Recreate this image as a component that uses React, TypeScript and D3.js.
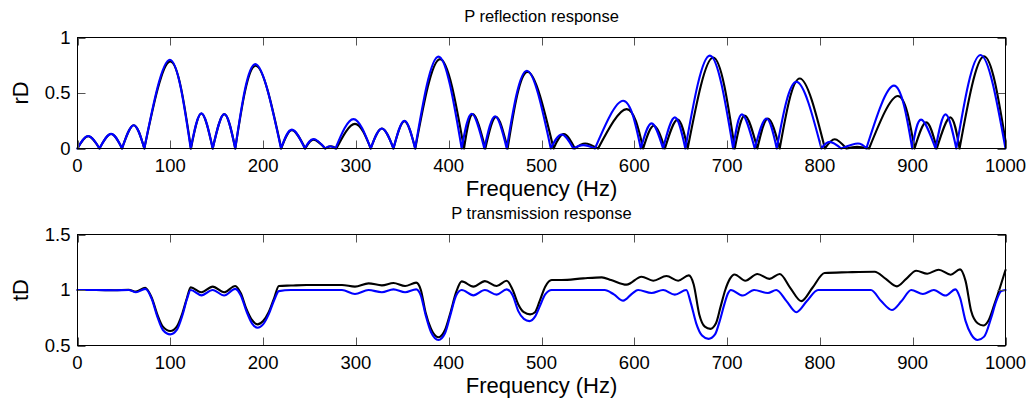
import React from "react";
import * as d3 from "d3";

// ---- data ----
const xTicks = [0, 100, 200, 300, 400, 500, 600, 700, 800, 900, 1000];
const reflTicks = [0, 0.5, 1];
const reflTickLabels = ["0", "0.5", "1"];
const transTicks = [0.5, 1, 1.5];
const transTickLabels = ["0.5", "1", "1.5"];

// P reflection response, black series (freq Hz, rD)
const reflBlack: [number, number][] = [
  [0, 0], [11.5, 0.11], [23.7, 0], [36.2, 0.13], [48, 0], [60.6, 0.21], [72, 0],
  [100, 0.785], [122.3, 0], [133.5, 0.315], [145.7, 0], [158.2, 0.31], [170, 0],
  [192, 0.745], [219.6, 0], [231, 0.165], [245.4, 0], [254.4, 0.08], [267, 0],
  [273, 0.02], [279, 0], [299, 0.222], [316, 0], [328, 0.18], [340.5, 0],
  [352.3, 0.245], [364, 0], [390.7, 0.805], [416.5, 0], [426, 0.31], [439.5, 0],
  [451, 0.285], [463.5, 0], [485, 0.69], [513, 0], [524, 0.13], [536, 0],
  [547, 0.045], [561, 0], [591.7, 0.355], [609.6, 0], [621, 0.205], [633, 0],
  [646.6, 0.26], [657.5, 0], [685, 0.82], [708.3, 0], [719, 0.296], [732.6, 0],
  [744, 0.27], [756.7, 0], [778.3, 0.63], [805.4, 0], [816, 0.084], [828.5, 0],
  [840, 0.015], [853, 0], [884, 0.473], [902, 0], [914.6, 0.235], [926, 0],
  [940.5, 0.28], [950.5, 0], [976.6, 0.83], [1000, 0.07],
];

// P reflection response, blue series
const reflBlue: [number, number][] = [
  [0, 0], [11.5, 0.112], [23.7, 0], [36.2, 0.132], [48, 0], [60.6, 0.21], [72, 0],
  [99.5, 0.8], [122, 0], [133.5, 0.316], [145.7, 0], [158.2, 0.31], [170, 0],
  [191.6, 0.76], [219.3, 0], [231, 0.17], [245, 0], [254.4, 0.085], [267, 0],
  [272, 0.02], [278, 0], [297.4, 0.265], [316, 0], [328, 0.18], [340.5, 0],
  [352.3, 0.25], [363.8, 0], [389, 0.828], [414, 0], [424.8, 0.313], [438.4, 0],
  [450, 0.29], [462.5, 0], [484.2, 0.7], [510, 0], [521.7, 0.126], [534.3, 0],
  [545, 0.03], [557.6, 0], [588, 0.43], [607, 0], [618.6, 0.226], [631, 0],
  [643.7, 0.28], [655, 0], [681.4, 0.837], [706.5, 0], [716, 0.307], [729.8, 0],
  [742.4, 0.27], [753.5, 0], [774.7, 0.6], [801.6, 0], [810.5, 0.06], [823, 0],
  [841, 0.045], [850, 0], [879.8, 0.566], [899.5, 0], [909, 0.26], [924.6, 0],
  [935.4, 0.307], [947, 0], [973, 0.843], [1000, 0],
];

// P transmission response, black series (freq Hz, tD)
const transBlack: [number, number][] = [
  [0, 1.0], [20, 1.0], [40, 0.998], [55, 1.002], [63, 0.985], [73, 1.02], [80, 0.93],
  [86, 0.78], [92, 0.67], [100, 0.63], [107, 0.67], [113, 0.79], [118, 0.93],
  [122, 1.024], [133.5, 0.98], [145.7, 1.03], [158, 0.98], [170, 1.036], [176, 0.97],
  [182, 0.83], [188, 0.73], [194, 0.69], [200, 0.72], [206, 0.8], [212, 0.93],
  [217, 1.036], [230, 1.04], [247, 1.045], [270, 1.045], [285, 1.045], [299, 1.03],
  [313.6, 1.06], [328, 1.042], [340.5, 1.063], [353, 1.036], [365, 1.066], [370, 1.0],
  [375, 0.8], [381, 0.65], [389, 0.575], [396, 0.64], [402, 0.8], [408, 0.98],
  [414, 1.078], [426.6, 1.03], [439, 1.08], [451.7, 1.036], [462.5, 1.084], [469, 1.0],
  [475, 0.87], [481, 0.8], [487.7, 0.78], [493, 0.8], [498, 0.9], [504, 1.03],
  [511, 1.09], [521.7, 1.09], [545, 1.105], [565, 1.114], [575, 1.09], [591.7, 1.048],
  [607.8, 1.12], [620.4, 1.084], [634.7, 1.126], [647.3, 1.084], [658.7, 1.132],
  [664, 1.05], [670, 0.78], [676, 0.67], [682, 0.65], [688, 0.7], [693, 0.85],
  [698, 1.0], [703, 1.1], [708, 1.14], [719.6, 1.084], [732.6, 1.144], [745.6, 1.1],
  [756.7, 1.144], [768, 1.02], [780, 0.9], [792, 1.02], [805, 1.153], [830, 1.16],
  [859, 1.165], [871, 1.1], [883, 1.033], [893, 1.1], [903.8, 1.174], [915.7, 1.147],
  [928, 1.183], [941, 1.138], [951, 1.186], [957, 1.08], [963, 0.81], [970, 0.7],
  [976, 0.68], [982, 0.73], [988, 0.87], [994, 1.02], [1000, 1.18],
];

// P transmission response, blue series
const transBlue: [number, number][] = [
  [0, 1.0], [20, 1.0], [40, 0.998], [55, 1.0], [63, 0.98], [73, 1.01], [80, 0.92],
  [86, 0.76], [92, 0.64], [100, 0.6], [107, 0.64], [113, 0.77], [118, 0.92],
  [122, 1.0], [133.5, 0.952], [145.7, 1.0], [158, 0.95], [170, 1.01], [176, 0.95],
  [182, 0.81], [188, 0.7], [194, 0.66], [200, 0.69], [206, 0.78], [212, 0.91],
  [217, 0.99], [230, 1.0], [285, 1.0], [299, 0.964], [313.6, 1.0], [328, 0.98],
  [340.5, 1.006], [353, 0.98], [365, 1.006], [370, 0.95], [375, 0.78], [381, 0.62],
  [389, 0.55], [396, 0.61], [402, 0.78], [408, 0.95], [414, 1.0], [426.6, 0.952],
  [439, 1.0], [451.7, 0.958], [462.5, 1.006], [469, 0.95], [475, 0.81], [481, 0.74],
  [487, 0.72], [493, 0.76], [498, 0.85], [504, 0.96], [511, 1.0], [568, 1.0],
  [578, 0.96], [588, 0.904], [598, 0.97], [604, 1.0], [618.7, 0.973], [631, 1.0],
  [643.7, 0.958], [656, 1.0], [661, 0.88], [666.7, 0.7], [673, 0.59], [680, 0.56],
  [687, 0.6], [692, 0.72], [697, 0.87], [701, 0.97], [704, 1.0], [717, 0.95],
  [729, 1.0], [744, 0.973], [753, 1.0], [764, 0.9], [774.6, 0.8], [786, 0.9],
  [798, 1.0], [855, 1.0], [866, 0.9], [877.6, 0.82], [888, 0.9], [898.4, 1.0],
  [911, 0.964], [922.8, 1.0], [935.4, 0.95], [946, 1.006], [951, 0.93], [957, 0.72],
  [963, 0.6], [970, 0.55], [977, 0.58], [984.6, 0.75], [990, 0.9], [995.4, 0.99],
  [1000, 1.0],
];

// ---- layout ----
const W = 1030;
const H = 404;
const LEFT = 77.5;
const RIGHT = 1005.5;
const FONT = "'Liberation Sans', Arial, Helvetica, sans-serif";
const TICK = 8;

function splitAtZeros(data: [number, number][]): [number, number][][] {
  const segs: [number, number][][] = [];
  let cur: [number, number][] = [data[0]];
  for (let i = 1; i < data.length; i++) {
    cur.push(data[i]);
    if (data[i][1] === 0 && i < data.length - 1) {
      segs.push(cur);
      cur = [data[i]];
    }
  }
  if (cur.length > 1) segs.push(cur);
  return segs;
}

type Series = { data: [number, number][]; color: string };

function Panel(props: {
  top: number;
  bottom: number;
  yDomain: [number, number];
  yTicks: number[];
  yTickLabels: string[];
  title: string;
  ylabel: string;
  series: Series[];
  lobes: boolean;
}) {
  const { top, bottom, yDomain, yTicks, yTickLabels, title, ylabel, series, lobes } = props;
  const x = d3.scaleLinear().domain([0, 1000]).range([LEFT, RIGHT]);
  const y = d3.scaleLinear().domain(yDomain).range([bottom, top]);
  const pathFor = (data: [number, number][]) => {
    if (lobes) {
      const line = d3
        .line<[number, number]>()
        .x((d) => x(d[0]))
        .y((d) => y(d[1]))
        .curve(d3.curveNatural);
      return splitAtZeros(data)
        .map((s) => line(s) || "")
        .join("");
    }
    const line = d3
      .line<[number, number]>()
      .x((d) => x(d[0]))
      .y((d) => y(d[1]))
      .curve(d3.curveMonotoneX);
    return line(data) || "";
  };
  const cx = (LEFT + RIGHT) / 2;
  const cy = (top + bottom) / 2;
  return (
    <g>
      {series.map((s, i) => (
        <path
          key={i}
          d={pathFor(s.data)}
          fill="none"
          stroke={s.color}
          strokeWidth={2.1}
          strokeLinejoin="round"
          strokeLinecap="round"
        />
      ))}
      {xTicks.map((t) => (
        <g key={"x" + t}>
          <line x1={Math.round(x(t)) + 0.5} x2={Math.round(x(t)) + 0.5} y1={bottom} y2={bottom - TICK} stroke="#555" strokeWidth={1} />
          <line x1={Math.round(x(t)) + 0.5} x2={Math.round(x(t)) + 0.5} y1={top} y2={top + TICK} stroke="#555" strokeWidth={1} />
          <text x={x(t)} y={bottom + 23} textAnchor="middle" fontFamily={FONT} fontSize={18.5} fill="#000">
            {t}
          </text>
        </g>
      ))}
      {yTicks.map((t, i) => (
        <g key={"y" + t}>
          <line x1={LEFT} x2={LEFT + TICK} y1={Math.round(y(t)) + 0.5} y2={Math.round(y(t)) + 0.5} stroke="#555" strokeWidth={1} />
          <line x1={RIGHT} x2={RIGHT - TICK} y1={Math.round(y(t)) + 0.5} y2={Math.round(y(t)) + 0.5} stroke="#555" strokeWidth={1} />
          <text x={LEFT - 7} y={y(t)} dy="0.35em" textAnchor="end" fontFamily={FONT} fontSize={18.5} fill="#000">
            {yTickLabels[i]}
          </text>
        </g>
      ))}
      <rect x={LEFT} y={top} width={RIGHT - LEFT} height={bottom - top} fill="none" stroke="#000" strokeWidth={1} />
      <text x={cx} y={top - 15.7} textAnchor="middle" fontFamily={FONT} fontSize={16.5} fill="#000">
        {title}
      </text>
      <text x={cx} y={bottom + 47} textAnchor="middle" fontFamily={FONT} fontSize={22} fill="#000">
        Frequency (Hz)
      </text>
      <text
        transform={`translate(28,${cy}) rotate(-90)`}
        textAnchor="middle"
        fontFamily={FONT}
        fontSize={22}
        fill="#000"
      >
        {ylabel}
      </text>
    </g>
  );
}

export default function App() {
  return (
    <svg
      width={W}
      height={H}
      viewBox={`0 0 ${W} ${H}`}
      style={{ position: "absolute", left: 0, top: 0, background: "#fff" }}
    >
      <rect x={0} y={0} width={W} height={H} fill="#fff" />
      <Panel
        top={37.5}
        bottom={148.5}
        yDomain={[0, 1]}
        yTicks={reflTicks}
        yTickLabels={reflTickLabels}
        title="P reflection response"
        ylabel="rD"
        lobes={true}
        series={[
          { data: reflBlack, color: "#000000" },
          { data: reflBlue, color: "#0000ff" },
        ]}
      />
      <Panel
        top={234.5}
        bottom={345.5}
        yDomain={[0.5, 1.5]}
        yTicks={transTicks}
        yTickLabels={transTickLabels}
        title="P transmission response"
        ylabel="tD"
        lobes={false}
        series={[
          { data: transBlack, color: "#000000" },
          { data: transBlue, color: "#0000ff" },
        ]}
      />
    </svg>
  );
}
